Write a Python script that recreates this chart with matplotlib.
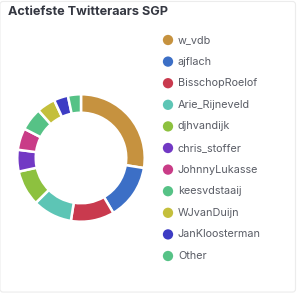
import matplotlib
matplotlib.use('Agg')
import matplotlib.pyplot as plt
from matplotlib.patches import FancyBboxPatch

plt.rcParams['font.family'] = ['Inter', 'DejaVu Sans']

# data
users = ['w_vdb', 'ajflach', 'BisschopRoelof', 'Arie_Rijneveld', 'djhvandijk',
         'chris_stoffer', 'JohnnyLukasse', 'keesvdstaaij', 'WJvanDuijn',
         'JanKloosterman', 'Other']
shares = [27.5, 14.0, 11.0, 10.0, 9.0, 5.5, 5.5, 5.8, 4.7, 3.6, 3.3]
colors = ['#C6923F', '#3C6FC6', '#C93A4E', '#5DC5B5', '#8DC13F', '#7239C4',
          '#C93C87', '#56C286', '#C4BF3C', '#3D3CC4', '#56C286']

fig = plt.figure(figsize=(3.0, 2.95), dpi=100)
W, H = 300, 295

# card border
fig.patches.append(FancyBboxPatch((0.0, 0.01), 0.985, 0.985, transform=fig.transFigure,
                                  boxstyle='round,pad=0,rounding_size=0.01',
                                  fc='white', ec='#ececec', lw=0.8, zorder=-1))

fig.text(8 / W, 1 - 12 / H, 'Actiefste Twitteraars SGP', fontsize=9.1,
         fontweight='bold', color='#343741', va='center', ha='left')

# donut
cx, cy, r = 81, 158, 65
ax = fig.add_axes([(cx - r) / W, 1 - (cy + r) / H, 2 * r / W, 2 * r / H])
ax.pie(shares, colors=colors, startangle=90, counterclock=False,
       wedgeprops=dict(width=0.29, edgecolor='white', linewidth=1.8))
ax.set_xlim(-1.02, 1.02)
ax.set_ylim(-1.02, 1.02)
ax.set_aspect('equal')
ax.axis('off')

# legend
lax = fig.add_axes([0, 0, 1, 1], facecolor='none')
lax.set_xlim(0, W)
lax.set_ylim(H, 0)
lax.axis('off')
for i, (name, c) in enumerate(zip(users, colors)):
    y = 40 + i * 21.6
    lax.scatter(168, y, s=55, color=c, edgecolors='none')
    lax.text(178, y, name, fontsize=7.8, color='#5a5d66', va='center', ha='left')

fig.savefig('out.png', dpi=100)
